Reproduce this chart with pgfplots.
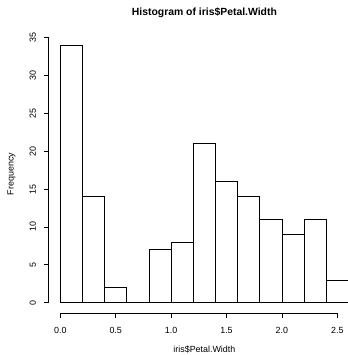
\documentclass[border=0pt]{standalone}
\usepackage{pgfplots}
\pgfplotsset{compat=1.18}
\usepackage{fontspec}
\setmainfont{Liberation Sans}
\begin{document}
\begin{tikzpicture}
\useasboundingbox (0,0) rectangle (348bp,355bp);
\begin{axis}[
  at={(48.8bp,42bp)}, anchor=south west,
  scale only axis, width=311.1bp, height=278bp,
  xmin=-0.104, xmax=2.704, ymin=-1.36, ymax=35.36,
  axis line style={draw=none},
  tick pos=left, tick align=outside,
  major tick length=5bp,
  tick style={black, line width=0.8bp},
  xtick={0,0.5,1,1.5,2,2.5},
  xticklabels={0.0,0.5,1.0,1.5,2.0,2.5},
  ytick={0,5,10,15,20,25,30,35},
  /pgf/number format/assume math mode=true,
  ticklabel style={font=\fontsize{8.9bp}{10bp}\selectfont},
  xticklabel style={anchor=base, yshift=-16bp},
  yticklabel style={rotate=90, anchor=base, yshift=8bp},
  clip=false,
]
\addplot[ybar interval, draw=black, fill=white, line width=0.8bp] coordinates {
(0.0,34) (0.2,14) (0.4,2) (0.6,0) (0.8,7) (1.0,8) (1.2,21) (1.4,16) (1.6,14) (1.8,11) (2.0,9) (2.2,11) (2.4,3) (2.6,3)
};
\draw[line width=0.8bp] (axis cs:0,-1.36) -- (axis cs:2.5,-1.36);
\draw[line width=0.8bp] (axis cs:-0.104,0) -- (axis cs:-0.104,35);
\end{axis}
\node[anchor=base, font=\bfseries\fontsize{10.4bp}{12bp}\selectfont] at (204.4bp,339.5bp) {Histogram of iris\$Petal.Width};
\node[anchor=base, font=\fontsize{8.9bp}{10bp}\selectfont] at (204.4bp,3bp) {iris\$Petal.Width};
\node[anchor=base, rotate=90, font=\fontsize{8.9bp}{10bp}\selectfont] at (13.7bp,181bp) {Frequency};
\end{tikzpicture}
\end{document}
